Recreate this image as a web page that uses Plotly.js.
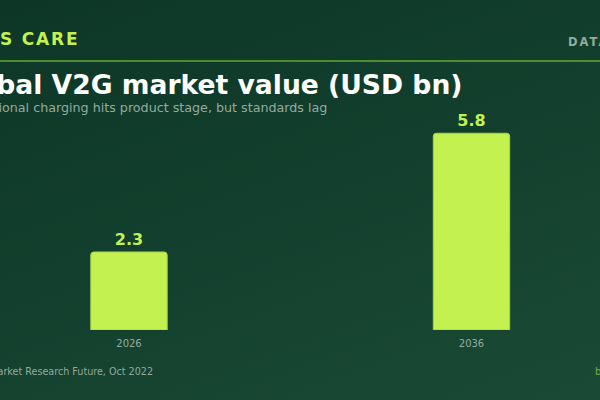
<!DOCTYPE html>
<html>
<head>
<meta charset="utf-8">
<script src="https://cdn.plot.ly/plotly-3.0.1.min.js"></script>
<style>
  html, body { margin: 0; padding: 0; }
  body { background: linear-gradient(160deg, #0d3627 0%, #13402e 50%, #1a4a35 100%); }
  #chart { width: 600px; height: 400px; }
</style>
</head>
<body>
<div id="chart"></div>
<script>
const years = ['2026', '2036'];
const values = [2.3, 5.8];
const valueLabels = ['2.3', '5.8'];

const lime = '#c3f150';
const grey = '#93ab9e';

const trace = {
  x: years,
  y: values,
  type: 'bar',
  width: 0.223,
  text: valueLabels,
  textposition: 'outside',
  cliponaxis: false,
  textfont: {family: 'DejaVu Sans', size: 16, weight: 'bold', color: lime},
  marker: {color: lime, line: {color: '#a9d243', width: 1}},
  hoverinfo: 'skip'
};

// pixel y -> paper y (plot area runs from y=100 to y=330)
const py = v => (330 - v) / 230;

const layout = {
  width: 600,
  height: 400,
  margin: {l: 0, r: 0, t: 100, b: 70},
  paper_bgcolor: 'rgba(0,0,0,0)',
  plot_bgcolor: 'rgba(0,0,0,0)',
  font: {family: 'DejaVu Sans', color: grey},
  showlegend: false,
  barcornerradius: 3,
  xaxis: {
    type: 'category',
    range: [-0.3766, 1.3752],
    showgrid: false,
    zeroline: false,
    showline: false,
    ticks: '',
    tickfont: {size: 10, color: grey},
    ticklabelstandoff: 6
  },
  yaxis: {
    range: [0, 6.78],
    showgrid: false,
    zeroline: false,
    showline: false,
    showticklabels: false
  },
  shapes: [
    {type: 'line', xref: 'paper', yref: 'paper', x0: 0, x1: 1, y0: py(61), y1: py(61),
     line: {color: '#4f8c2c', width: 2}}
  ],
  annotations: [
    {xref: 'paper', yref: 'paper', x: -2 / 600, y: py(39), xanchor: 'left', yanchor: 'middle',
     showarrow: false,
     text: '<span style="letter-spacing:1.8px">S CARE</span>',
     font: {size: 17, weight: 'bold', color: lime}},
    {xref: 'paper', yref: 'paper', x: 566 / 600, y: py(42), xanchor: 'left', yanchor: 'middle',
     showarrow: false,
     text: '<span style="letter-spacing:2px">DATA</span>',
     font: {size: 11.5, weight: 'bold', color: grey}},
    {xref: 'paper', yref: 'paper', x: 464 / 600, y: py(85), xanchor: 'right', yanchor: 'middle',
     showarrow: false,
     text: 'Global V2G market value (USD bn)',
     font: {size: 26.6, weight: 'bold', color: '#ffffff'}},
    {xref: 'paper', yref: 'paper', x: 329 / 600, y: py(107), xanchor: 'right', yanchor: 'middle',
     showarrow: false,
     text: 'Bidirectional charging hits product stage, but standards lag',
     font: {size: 12.7, color: grey}},
    {xref: 'paper', yref: 'paper', x: 155 / 600, y: py(371), xanchor: 'right', yanchor: 'middle',
     showarrow: false,
     text: 'Source: Market Research Future, Oct 2022',
     font: {size: 9.6, color: grey}},
    {xref: 'paper', yref: 'paper', x: 593 / 600, y: py(371), xanchor: 'left', yanchor: 'middle',
     showarrow: false,
     text: 'b',
     font: {size: 10, color: '#6fae3c'}}
  ]
};

Plotly.newPlot('chart', [trace], layout, {staticPlot: true, displayModeBar: false});
</script>
</body>
</html>
